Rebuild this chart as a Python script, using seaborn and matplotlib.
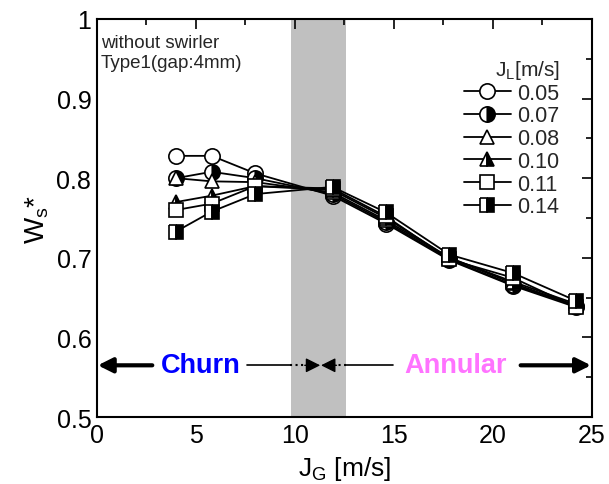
import matplotlib
matplotlib.use("Agg")
import matplotlib.pyplot as plt
import seaborn as sns
import pandas as pd
from matplotlib.ticker import MultipleLocator, FormatStrFormatter

sns.set_theme(style="white")
plt.rcParams['font.family'] = ['Liberation Sans', 'DejaVu Sans']
plt.rcParams['mathtext.fontset'] = 'custom'
plt.rcParams['mathtext.rm'] = 'Liberation Sans'
plt.rcParams['mathtext.it'] = 'Liberation Sans'

jg = [4.0, 5.8, 8.0, 11.9, 14.6, 17.8, 21.0, 24.2]
jl_labels = ["0.05", "0.07", "0.08", "0.10", "0.11", "0.14"]
ws_005 = [0.828, 0.828, 0.806, 0.778, 0.743, 0.697, 0.665, 0.638]
ws_007 = [0.800, 0.808, 0.800, 0.780, 0.745, 0.698, 0.666, 0.640]
ws_008 = [0.800, 0.796, 0.795, 0.782, 0.747, 0.700, 0.668, 0.640]
ws_010 = [0.770, 0.778, 0.790, 0.785, 0.750, 0.700, 0.670, 0.642]
ws_011 = [0.760, 0.768, 0.790, 0.787, 0.752, 0.698, 0.675, 0.638]
ws_014 = [0.733, 0.758, 0.780, 0.789, 0.757, 0.704, 0.681, 0.646]
series = [ws_005, ws_007, ws_008, ws_010, ws_011, ws_014]

styles = [
    dict(marker='o', markersize=11, fillstyle='full', markerfacecolor='white'),
    dict(marker='o', markersize=11, fillstyle='left', markerfacecolor='white', markerfacecoloralt='black'),
    dict(marker='^', markersize=10, fillstyle='full', markerfacecolor='white'),
    dict(marker='^', markersize=10, fillstyle='left', markerfacecolor='white', markerfacecoloralt='black'),
    dict(marker='s', markersize=10, fillstyle='full', markerfacecolor='white'),
    dict(marker='s', markersize=10, fillstyle='left', markerfacecolor='white', markerfacecoloralt='black'),
]

fig = plt.figure(figsize=(6.09, 4.85), dpi=100)
ax = fig.add_axes([0.159, 0.138, 0.813, 0.821])

ax.axvspan(9.8, 12.6, color='#c0c0c0', lw=0, zorder=0)

for lab, ys, st in zip(jl_labels, series, styles):
    df = pd.DataFrame({'JG': jg, 'Ws': ys})
    sns.lineplot(data=df, x='JG', y='Ws', ax=ax, color='black', lw=1.3,
                 markeredgecolor='black', markeredgewidth=1.2, label=lab,
                 zorder=3, **st)

ax.set_xlim(0, 25)
ax.set_ylim(0.5, 1.0)
ax.xaxis.set_major_locator(MultipleLocator(5))
ax.xaxis.set_minor_locator(MultipleLocator(2.5))
ax.yaxis.set_major_locator(MultipleLocator(0.1))
ax.yaxis.set_minor_locator(MultipleLocator(0.05))
ax.xaxis.set_major_formatter(FormatStrFormatter('%g'))
ax.yaxis.set_major_formatter(FormatStrFormatter('%g'))
ax.tick_params(which='both', direction='in', top=True, right=True, width=1.2,
               labelsize=18, colors='black', pad=4)
ax.tick_params(which='major', length=7)
ax.tick_params(which='minor', length=4)
for s in ax.spines.values():
    s.set_linewidth(1.5)
    s.set_color('black')

ax.set_xlabel(r'J$_{\mathrm{G}}$ [m/s]', fontsize=19, color='black', labelpad=5)
ax.set_ylabel(r'W$_{\mathrm{s}}$*', fontsize=20, color='black', labelpad=4)

ax.text(0.008, 0.962, 'without swirler\nType1(gap:4mm)', transform=ax.transAxes,
        ha='left', va='top', fontsize=13.5, linespacing=1.25)

leg = ax.legend(title=r'J$_{\mathrm{L}}$[m/s]', loc='upper right', frameon=False,
                fontsize=15.5, title_fontsize=15, handlelength=2.2, handletextpad=0.3,
                labelspacing=0.08, borderaxespad=0.0, borderpad=0.0,
                bbox_to_anchor=(0.935, 0.902))
leg._legend_box.align = 'right'

# flow regime arrows
ya = 0.565
ax.annotate('', xy=(0.05, ya), xytext=(2.8, ya),
            arrowprops=dict(arrowstyle='-|>', lw=3, color='black', mutation_scale=22,
                            shrinkA=0, shrinkB=0), zorder=4)
ax.annotate('', xy=(24.95, ya), xytext=(21.4, ya),
            arrowprops=dict(arrowstyle='-|>', lw=3, color='black', mutation_scale=22,
                            shrinkA=0, shrinkB=0), zorder=4)
ax.plot([7.6, 9.75], [ya, ya], color='black', lw=1.2, zorder=4)
ax.plot([12.6, 14.95], [ya, ya], color='black', lw=1.2, zorder=4)
ax.plot([9.75, 10.6], [ya, ya], color='black', lw=1.5, ls=':', zorder=4)
ax.plot([11.9, 12.6], [ya, ya], color='black', lw=1.5, ls=':', zorder=4)
ax.annotate('', xy=(11.28, ya), xytext=(10.5, ya),
            arrowprops=dict(arrowstyle='-|>', lw=1, color='black', mutation_scale=22,
                            shrinkA=0, shrinkB=0), zorder=4)
ax.annotate('', xy=(11.32, ya), xytext=(12.1, ya),
            arrowprops=dict(arrowstyle='-|>', lw=1, color='black', mutation_scale=22,
                            shrinkA=0, shrinkB=0), zorder=4)
ax.text(5.25, ya, 'Churn', color='#0000ff', fontsize=19.5, fontweight='bold',
        ha='center', va='center', zorder=5)
ax.text(18.1, ya, 'Annular', color='#ff73ff', fontsize=19.5, fontweight='bold',
        ha='center', va='center', zorder=5)

fig.savefig('out.png', dpi=100)
